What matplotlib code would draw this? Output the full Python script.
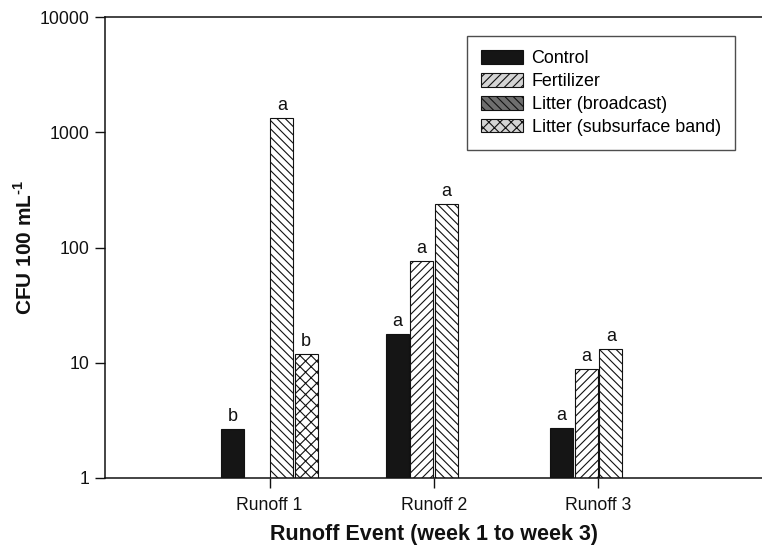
import numpy as np
import matplotlib
matplotlib.use("Agg")
import matplotlib.pyplot as plt
from matplotlib.patches import Patch

plt.rcParams['font.family'] = ['Liberation Sans', 'DejaVu Sans']
plt.rcParams['mathtext.fontset'] = 'custom'
plt.rcParams['mathtext.rm'] = 'Liberation Sans:bold'
plt.rcParams['mathtext.bf'] = 'Liberation Sans:bold'
plt.rcParams['hatch.linewidth'] = 0.8

events = ["Runoff 1", "Runoff 2", "Runoff 3"]
series = ["Control", "Fertilizer", "Litter (broadcast)", "Litter (subsurface band)"]
control = [2.65, 17.8, 2.73]
fertilizer = [np.nan, 76, 8.8]
litter_broadcast = [1320, 238, 13.2]
litter_subsurface = [11.8, np.nan, np.nan]
letters_control = ["b", "a", "a"]
letters_fertilizer = ["", "a", "a"]
letters_broadcast = ["a", "a", "a"]
letters_subsurface = ["b", "", ""]

values = [control, fertilizer, litter_broadcast, litter_subsurface]
letters = [letters_control, letters_fertilizer, letters_broadcast, letters_subsurface]

bar_face = ["#151515", "white", "white", "white"]
hatches = [None, "////", "\\\\\\\\", "xxx"]
legend_face = ["#151515", "#d4d4d4", "#6e6e6e", "#d4d4d4"]

fig = plt.figure(figsize=(7.62, 5.48), dpi=100)
ax = fig.add_axes([105 / 762, 70 / 548, 658 / 762, 461 / 548])

x = np.arange(1, len(events) + 1)
slot = 0.149
offsets = (np.arange(4) - 1.5) * slot
for vals, labs, face, hatch, off in zip(values, letters, bar_face, hatches, offsets):
    ax.bar(x + off, vals, width=slot * 0.94, bottom=0, color=face,
           edgecolor="#111111", linewidth=0.8, hatch=hatch, zorder=2)
    for xi, v, lab in zip(x + off, vals, labs):
        if lab and not np.isnan(v):
            ax.annotate(lab, (xi, v), xytext=(0, 3), textcoords="offset points",
                        ha="center", va="bottom", fontsize=13, color="#111111")

ax.set_yscale("log")
ax.set_ylim(1, 10000)
ax.set_xlim(0, 4)
ax.set_yticks([1, 10, 100, 1000, 10000])
ax.set_yticklabels(["1", "10", "100", "1000", "10000"])
ax.minorticks_off()
ax.set_xticks(x)
ax.set_xticklabels(events)
ax.tick_params(axis="both", direction="out", length=7, width=1, labelsize=12.7,
               colors="#111111", pad=4)
ax.tick_params(axis="x", pad=7)
ax.spines["right"].set_visible(False)
for s in ["left", "bottom", "top"]:
    ax.spines[s].set_linewidth(1.1)
    ax.spines[s].set_color("#111111")

ax.set_xlabel("Runoff Event (week 1 to week 3)", fontsize=15.5, fontweight="bold",
              labelpad=7, color="#111111")
ax.set_ylabel("CFU 100 mL$^{\\text{-1}}$", fontsize=15, fontweight="bold",
              labelpad=3, color="#111111")

handles = [Patch(facecolor=f, edgecolor="#111111", hatch=h, linewidth=0.8)
           for f, h in zip(legend_face, hatches)]
leg = ax.legend(handles, series, loc="upper left",
                bbox_to_anchor=(467 / 762, 1 - 36 / 548), bbox_transform=fig.transFigure,
                fontsize=12.9, frameon=True, fancybox=False, borderaxespad=0,
                handlelength=2.3, handleheight=0.8, handletextpad=0.5,
                labelspacing=0.32, borderpad=0.8)
leg.get_frame().set_edgecolor("#222222")
leg.get_frame().set_linewidth(1.0)

fig.savefig("out.png", dpi=100)
